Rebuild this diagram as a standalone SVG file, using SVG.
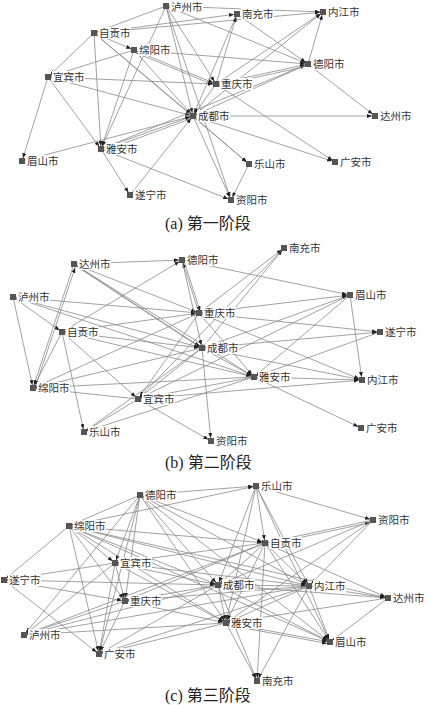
<svg xmlns="http://www.w3.org/2000/svg" width="428" height="705" viewBox="0 0 428 705">
<style>
.e line{stroke:#8a8a8a;stroke-width:0.8;fill:none;marker-end:url(#ar)}
.n{fill:#555}
.bg{fill:#fff}
.lb{font-family:"Noto Sans CJK SC",sans-serif;font-size:10.5px;fill:#333}
.cap{font-family:"Liberation Serif","Noto Sans CJK SC",serif;font-size:16px;fill:#222}
</style>
<defs>
<marker id="ar" viewBox="0 0 5 4" refX="8" refY="2" markerWidth="5" markerHeight="4" markerUnits="userSpaceOnUse" orient="auto"><path d="M0,0L5,2L0,4z" fill="#222"/></marker>
</defs>
<rect width="428" height="705" fill="#fff"/>
<g id="connectors" class="e">
<!-- panel a -->
<line x1="166" y1="6" x2="94" y2="33"/>
<line x1="166" y1="6" x2="323" y2="12"/>
<line x1="166" y1="6" x2="101" y2="149"/>
<line x1="166" y1="6" x2="193" y2="116"/>
<line x1="166" y1="6" x2="216" y2="84"/>
<line x1="166" y1="6" x2="308" y2="64"/>
<line x1="166" y1="6" x2="231" y2="200"/>
<line x1="94" y1="33" x2="237" y2="14"/>
<line x1="94" y1="33" x2="323" y2="12"/>
<line x1="94" y1="33" x2="48" y2="77"/>
<line x1="94" y1="33" x2="101" y2="149"/>
<line x1="94" y1="33" x2="193" y2="116"/>
<line x1="94" y1="33" x2="134" y2="50"/>
<line x1="94" y1="33" x2="249" y2="164"/>
<line x1="134" y1="50" x2="48" y2="77"/>
<line x1="134" y1="50" x2="101" y2="149"/>
<line x1="134" y1="50" x2="308" y2="64"/>
<line x1="134" y1="50" x2="216" y2="84"/>
<line x1="216" y1="86" x2="134" y2="52"/>
<line x1="134" y1="50" x2="193" y2="116"/>
<line x1="48" y1="77" x2="216" y2="84"/>
<line x1="48" y1="77" x2="193" y2="116"/>
<line x1="48" y1="77" x2="22" y2="161"/>
<line x1="48" y1="77" x2="101" y2="149"/>
<line x1="22" y1="161" x2="193" y2="116"/>
<line x1="101" y1="149" x2="193" y2="116"/>
<line x1="193" y1="118" x2="103" y2="151"/>
<line x1="101" y1="149" x2="231" y2="200"/>
<line x1="101" y1="149" x2="130" y2="195"/>
<line x1="101" y1="149" x2="308" y2="64"/>
<line x1="130" y1="195" x2="193" y2="116"/>
<line x1="193" y1="116" x2="375" y2="116"/>
<line x1="193" y1="116" x2="335" y2="162"/>
<line x1="193" y1="116" x2="249" y2="164"/>
<line x1="193" y1="116" x2="231" y2="200"/>
<line x1="308" y1="64" x2="193" y2="116"/>
<line x1="193" y1="116" x2="323" y2="12"/>
<line x1="237" y1="14" x2="193" y2="116"/>
<line x1="216" y1="84" x2="193" y2="116"/>
<line x1="216" y1="84" x2="308" y2="64"/>
<line x1="308" y1="66" x2="216" y2="86"/>
<line x1="216" y1="84" x2="323" y2="12"/>
<line x1="216" y1="84" x2="237" y2="14"/>
<line x1="216" y1="84" x2="335" y2="162"/>
<line x1="308" y1="64" x2="323" y2="12"/>
<line x1="308" y1="64" x2="375" y2="116"/>
<line x1="237" y1="14" x2="308" y2="64"/>
<line x1="249" y1="164" x2="231" y2="200"/>
<!-- panel b -->
<line x1="74" y1="264" x2="182" y2="260"/>
<line x1="74" y1="264" x2="199" y2="313"/>
<line x1="74" y1="264" x2="202" y2="348"/>
<line x1="76" y1="266" x2="204" y2="350"/>
<line x1="74" y1="264" x2="254" y2="377"/>
<line x1="74" y1="264" x2="33" y2="388"/>
<line x1="35" y1="388" x2="76" y2="265"/>
<line x1="13" y1="297" x2="33" y2="388"/>
<line x1="13" y1="297" x2="62" y2="332"/>
<line x1="13" y1="297" x2="199" y2="313"/>
<line x1="13" y1="297" x2="202" y2="348"/>
<line x1="13" y1="297" x2="254" y2="377"/>
<line x1="62" y1="332" x2="182" y2="260"/>
<line x1="62" y1="332" x2="199" y2="313"/>
<line x1="62" y1="332" x2="202" y2="348"/>
<line x1="62" y1="332" x2="138" y2="399"/>
<line x1="62" y1="332" x2="33" y2="388"/>
<line x1="62" y1="332" x2="84" y2="432"/>
<line x1="62" y1="332" x2="254" y2="377"/>
<line x1="199" y1="313" x2="284" y2="248"/>
<line x1="199" y1="313" x2="380" y2="332"/>
<line x1="199" y1="313" x2="362" y2="380"/>
<line x1="199" y1="313" x2="254" y2="377"/>
<line x1="199" y1="313" x2="182" y2="260"/>
<line x1="184" y1="261" x2="201" y2="314"/>
<line x1="199" y1="313" x2="33" y2="388"/>
<line x1="199" y1="313" x2="138" y2="399"/>
<line x1="199" y1="313" x2="350" y2="295"/>
<line x1="202" y1="348" x2="350" y2="295"/>
<line x1="202" y1="348" x2="380" y2="332"/>
<line x1="202" y1="348" x2="362" y2="380"/>
<line x1="202" y1="348" x2="254" y2="377"/>
<line x1="202" y1="348" x2="284" y2="248"/>
<line x1="182" y1="260" x2="202" y2="348"/>
<line x1="202" y1="348" x2="33" y2="388"/>
<line x1="202" y1="348" x2="138" y2="399"/>
<line x1="202" y1="348" x2="84" y2="432"/>
<line x1="202" y1="348" x2="211" y2="441"/>
<line x1="182" y1="260" x2="350" y2="295"/>
<line x1="284" y1="248" x2="138" y2="399"/>
<line x1="350" y1="295" x2="362" y2="380"/>
<line x1="350" y1="295" x2="254" y2="377"/>
<line x1="350" y1="295" x2="138" y2="399"/>
<line x1="380" y1="332" x2="254" y2="377"/>
<line x1="254" y1="377" x2="362" y2="380"/>
<line x1="254" y1="377" x2="361" y2="428"/>
<line x1="254" y1="377" x2="138" y2="399"/>
<line x1="254" y1="377" x2="33" y2="388"/>
<line x1="254" y1="377" x2="84" y2="432"/>
<line x1="138" y1="399" x2="33" y2="388"/>
<line x1="138" y1="399" x2="211" y2="441"/>
<line x1="138" y1="399" x2="84" y2="432"/>
<line x1="138" y1="399" x2="362" y2="380"/>
<!-- panel c -->
<line x1="140" y1="495" x2="256" y2="486"/>
<line x1="140" y1="495" x2="69" y2="526"/>
<line x1="140" y1="495" x2="265" y2="543"/>
<line x1="140" y1="495" x2="218" y2="585"/>
<line x1="140" y1="495" x2="115" y2="563"/>
<line x1="140" y1="495" x2="125" y2="601"/>
<line x1="140" y1="495" x2="309" y2="586"/>
<line x1="140" y1="495" x2="330" y2="642"/>
<line x1="140" y1="495" x2="99" y2="654"/>
<line x1="140" y1="495" x2="226" y2="623"/>
<line x1="140" y1="495" x2="24" y2="635"/>
<line x1="256" y1="486" x2="373" y2="520"/>
<line x1="256" y1="486" x2="265" y2="543"/>
<line x1="256" y1="486" x2="218" y2="585"/>
<line x1="256" y1="486" x2="309" y2="586"/>
<line x1="256" y1="486" x2="226" y2="623"/>
<line x1="256" y1="486" x2="330" y2="642"/>
<line x1="69" y1="526" x2="256" y2="486"/>
<line x1="373" y1="520" x2="265" y2="543"/>
<line x1="265" y1="545" x2="373" y2="522"/>
<line x1="373" y1="520" x2="218" y2="585"/>
<line x1="373" y1="520" x2="226" y2="623"/>
<line x1="373" y1="520" x2="309" y2="586"/>
<line x1="69" y1="526" x2="4" y2="580"/>
<line x1="69" y1="526" x2="115" y2="563"/>
<line x1="69" y1="526" x2="218" y2="585"/>
<line x1="69" y1="526" x2="125" y2="601"/>
<line x1="69" y1="526" x2="99" y2="654"/>
<line x1="69" y1="526" x2="226" y2="623"/>
<line x1="69" y1="526" x2="309" y2="586"/>
<line x1="69" y1="526" x2="265" y2="543"/>
<line x1="69" y1="526" x2="330" y2="642"/>
<line x1="69" y1="526" x2="388" y2="598"/>
<line x1="265" y1="543" x2="218" y2="585"/>
<line x1="265" y1="543" x2="309" y2="586"/>
<line x1="265" y1="543" x2="226" y2="623"/>
<line x1="265" y1="543" x2="115" y2="563"/>
<line x1="265" y1="543" x2="330" y2="642"/>
<line x1="265" y1="543" x2="388" y2="598"/>
<line x1="265" y1="543" x2="125" y2="601"/>
<line x1="265" y1="543" x2="24" y2="635"/>
<line x1="265" y1="543" x2="257" y2="681"/>
<line x1="115" y1="563" x2="4" y2="580"/>
<line x1="115" y1="563" x2="218" y2="585"/>
<line x1="115" y1="563" x2="125" y2="601"/>
<line x1="115" y1="563" x2="309" y2="586"/>
<line x1="115" y1="563" x2="226" y2="623"/>
<line x1="115" y1="563" x2="99" y2="654"/>
<line x1="115" y1="563" x2="24" y2="635"/>
<line x1="4" y1="580" x2="218" y2="585"/>
<line x1="4" y1="580" x2="125" y2="601"/>
<line x1="4" y1="580" x2="99" y2="654"/>
<line x1="218" y1="585" x2="309" y2="586"/>
<line x1="218" y1="585" x2="226" y2="623"/>
<line x1="218" y1="585" x2="125" y2="601"/>
<line x1="218" y1="585" x2="24" y2="635"/>
<line x1="218" y1="585" x2="99" y2="654"/>
<line x1="218" y1="585" x2="330" y2="642"/>
<line x1="218" y1="585" x2="257" y2="681"/>
<line x1="218" y1="585" x2="388" y2="598"/>
<line x1="309" y1="586" x2="388" y2="598"/>
<line x1="309" y1="586" x2="226" y2="623"/>
<line x1="309" y1="586" x2="330" y2="642"/>
<line x1="309" y1="586" x2="257" y2="681"/>
<line x1="309" y1="586" x2="125" y2="601"/>
<line x1="309" y1="586" x2="24" y2="635"/>
<line x1="309" y1="586" x2="99" y2="654"/>
<line x1="388" y1="598" x2="226" y2="623"/>
<line x1="388" y1="598" x2="330" y2="642"/>
<line x1="125" y1="601" x2="226" y2="623"/>
<line x1="125" y1="601" x2="24" y2="635"/>
<line x1="125" y1="601" x2="99" y2="654"/>
<line x1="226" y1="623" x2="330" y2="642"/>
<line x1="228" y1="625" x2="330" y2="644"/>
<line x1="226" y1="623" x2="24" y2="635"/>
<line x1="226" y1="623" x2="99" y2="654"/>
<line x1="226" y1="623" x2="257" y2="681"/>
</g>
<!-- panel a nodes -->
<g id="a-luzhou" transform="translate(166,6)"><rect class="bg" x="4" y="-6" width="33" height="12"/><rect class="n" x="-3" y="-3" width="6" height="6"/><text class="lb" x="5" y="4.5">泸州市</text></g>
<g id="a-nanchong" transform="translate(237,14)"><rect class="bg" x="4" y="-6" width="33" height="12"/><rect class="n" x="-3" y="-3" width="6" height="6"/><text class="lb" x="5" y="4">南充市</text></g>
<g id="a-neijiang" transform="translate(323,12)"><rect class="bg" x="4" y="-6" width="33" height="12"/><rect class="n" x="-3" y="-3" width="6" height="6"/><text class="lb" x="5" y="4">内江市</text></g>
<g id="a-zigong" transform="translate(94,33)"><rect class="bg" x="4" y="-6" width="33" height="12"/><rect class="n" x="-3" y="-3" width="6" height="6"/><text class="lb" x="5" y="4">自贡市</text></g>
<g id="a-mianyang" transform="translate(134,50)"><rect class="bg" x="4" y="-6" width="33" height="12"/><rect class="n" x="-3" y="-3" width="6" height="6"/><text class="lb" x="5" y="4">绵阳市</text></g>
<g id="a-deyang" transform="translate(308,64)"><rect class="bg" x="4" y="-6" width="33" height="12"/><rect class="n" x="-3" y="-3" width="6" height="6"/><text class="lb" x="5" y="4">德阳市</text></g>
<g id="a-yibin" transform="translate(48,77)"><rect class="bg" x="4" y="-6" width="33" height="12"/><rect class="n" x="-3" y="-3" width="6" height="6"/><text class="lb" x="5" y="4">宜宾市</text></g>
<g id="a-chongqing" transform="translate(216,84)"><rect class="bg" x="4" y="-6" width="33" height="12"/><rect class="n" x="-3" y="-3" width="6" height="6"/><text class="lb" x="5" y="4">重庆市</text></g>
<g id="a-chengdu" transform="translate(193,116)"><rect class="bg" x="4" y="-6" width="33" height="12"/><rect class="n" x="-3" y="-3" width="6" height="6"/><text class="lb" x="5" y="4">成都市</text></g>
<g id="a-dazhou" transform="translate(375,116)"><rect class="bg" x="4" y="-6" width="33" height="12"/><rect class="n" x="-3" y="-3" width="6" height="6"/><text class="lb" x="5" y="4">达州市</text></g>
<g id="a-yaan" transform="translate(101,149)"><rect class="bg" x="4" y="-6" width="33" height="12"/><rect class="n" x="-3" y="-3" width="6" height="6"/><text class="lb" x="5" y="4">雅安市</text></g>
<g id="a-meishan" transform="translate(22,161)"><rect class="bg" x="4" y="-6" width="33" height="12"/><rect class="n" x="-3" y="-3" width="6" height="6"/><text class="lb" x="5" y="4">眉山市</text></g>
<g id="a-leshan" transform="translate(249,164)"><rect class="bg" x="4" y="-6" width="33" height="12"/><rect class="n" x="-3" y="-3" width="6" height="6"/><text class="lb" x="5" y="4">乐山市</text></g>
<g id="a-guangan" transform="translate(335,162)"><rect class="bg" x="4" y="-6" width="33" height="12"/><rect class="n" x="-3" y="-3" width="6" height="6"/><text class="lb" x="5" y="4">广安市</text></g>
<g id="a-suining" transform="translate(130,195)"><rect class="bg" x="4" y="-6" width="33" height="12"/><rect class="n" x="-3" y="-3" width="6" height="6"/><text class="lb" x="5" y="4">遂宁市</text></g>
<g id="a-ziyang" transform="translate(231,200)"><rect class="bg" x="4" y="-6" width="33" height="12"/><rect class="n" x="-3" y="-3" width="6" height="6"/><text class="lb" x="5" y="4">资阳市</text></g>
<text class="cap" x="165" y="229">(a) 第一阶段</text>
<!-- panel b nodes -->
<g id="b-dazhou" transform="translate(74,264)"><rect class="bg" x="4" y="-6" width="33" height="12"/><rect class="n" x="-3" y="-3" width="6" height="6"/><text class="lb" x="5" y="4">达州市</text></g>
<g id="b-deyang" transform="translate(182,260)"><rect class="bg" x="4" y="-6" width="33" height="12"/><rect class="n" x="-3" y="-3" width="6" height="6"/><text class="lb" x="5" y="4">德阳市</text></g>
<g id="b-nanchong" transform="translate(284,248)"><rect class="bg" x="4" y="-6" width="33" height="12"/><rect class="n" x="-3" y="-3" width="6" height="6"/><text class="lb" x="5" y="4">南充市</text></g>
<g id="b-luzhou" transform="translate(13,297)"><rect class="bg" x="4" y="-6" width="33" height="12"/><rect class="n" x="-3" y="-3" width="6" height="6"/><text class="lb" x="5" y="4">泸州市</text></g>
<g id="b-meishan" transform="translate(350,295)"><rect class="bg" x="4" y="-6" width="33" height="12"/><rect class="n" x="-3" y="-3" width="6" height="6"/><text class="lb" x="5" y="4">眉山市</text></g>
<g id="b-chongqing" transform="translate(199,313)"><rect class="bg" x="4" y="-6" width="33" height="12"/><rect class="n" x="-3" y="-3" width="6" height="6"/><text class="lb" x="5" y="4">重庆市</text></g>
<g id="b-zigong" transform="translate(62,332)"><rect class="bg" x="4" y="-6" width="33" height="12"/><rect class="n" x="-3" y="-3" width="6" height="6"/><text class="lb" x="5" y="4">自贡市</text></g>
<g id="b-suining" transform="translate(380,332)"><rect class="bg" x="4" y="-6" width="33" height="12"/><rect class="n" x="-3" y="-3" width="6" height="6"/><text class="lb" x="5" y="4">遂宁市</text></g>
<g id="b-chengdu" transform="translate(202,348)"><rect class="bg" x="4" y="-6" width="33" height="12"/><rect class="n" x="-3" y="-3" width="6" height="6"/><text class="lb" x="5" y="4">成都市</text></g>
<g id="b-yaan" transform="translate(254,377)"><rect class="bg" x="4" y="-6" width="33" height="12"/><rect class="n" x="-3" y="-3" width="6" height="6"/><text class="lb" x="5" y="4">雅安市</text></g>
<g id="b-neijiang" transform="translate(362,380)"><rect class="bg" x="4" y="-6" width="33" height="12"/><rect class="n" x="-3" y="-3" width="6" height="6"/><text class="lb" x="5" y="4">内江市</text></g>
<g id="b-mianyang" transform="translate(33,388)"><rect class="bg" x="4" y="-6" width="33" height="12"/><rect class="n" x="-3" y="-3" width="6" height="6"/><text class="lb" x="5" y="4">绵阳市</text></g>
<g id="b-yibin" transform="translate(138,399)"><rect class="bg" x="4" y="-6" width="33" height="12"/><rect class="n" x="-3" y="-3" width="6" height="6"/><text class="lb" x="5" y="4">宜宾市</text></g>
<g id="b-leshan" transform="translate(84,432)"><rect class="bg" x="4" y="-6" width="33" height="12"/><rect class="n" x="-3" y="-3" width="6" height="6"/><text class="lb" x="5" y="4">乐山市</text></g>
<g id="b-ziyang" transform="translate(211,441)"><rect class="bg" x="4" y="-6" width="33" height="12"/><rect class="n" x="-3" y="-3" width="6" height="6"/><text class="lb" x="5" y="4">资阳市</text></g>
<g id="b-guangan" transform="translate(361,428)"><rect class="bg" x="4" y="-6" width="33" height="12"/><rect class="n" x="-3" y="-3" width="6" height="6"/><text class="lb" x="5" y="4">广安市</text></g>
<text class="cap" x="165" y="468">(b) 第二阶段</text>
<!-- panel c nodes -->
<g id="c-leshan" transform="translate(256,486)"><rect class="bg" x="4" y="-6" width="33" height="12"/><rect class="n" x="-3" y="-3" width="6" height="6"/><text class="lb" x="5" y="4">乐山市</text></g>
<g id="c-deyang" transform="translate(140,495)"><rect class="bg" x="4" y="-6" width="33" height="12"/><rect class="n" x="-3" y="-3" width="6" height="6"/><text class="lb" x="5" y="4">德阳市</text></g>
<g id="c-ziyang" transform="translate(373,520)"><rect class="bg" x="4" y="-6" width="33" height="12"/><rect class="n" x="-3" y="-3" width="6" height="6"/><text class="lb" x="5" y="4">资阳市</text></g>
<g id="c-mianyang" transform="translate(69,526)"><rect class="bg" x="4" y="-6" width="33" height="12"/><rect class="n" x="-3" y="-3" width="6" height="6"/><text class="lb" x="5" y="4">绵阳市</text></g>
<g id="c-zigong" transform="translate(265,543)"><rect class="bg" x="4" y="-6" width="33" height="12"/><rect class="n" x="-3" y="-3" width="6" height="6"/><text class="lb" x="5" y="4">自贡市</text></g>
<g id="c-yibin" transform="translate(115,563)"><rect class="bg" x="4" y="-6" width="33" height="12"/><rect class="n" x="-3" y="-3" width="6" height="6"/><text class="lb" x="5" y="4">宜宾市</text></g>
<g id="c-suining" transform="translate(4,580)"><rect class="bg" x="4" y="-6" width="33" height="12"/><rect class="n" x="-3" y="-3" width="6" height="6"/><text class="lb" x="5" y="4">遂宁市</text></g>
<g id="c-chengdu" transform="translate(218,585)"><rect class="bg" x="4" y="-6" width="33" height="12"/><rect class="n" x="-3" y="-3" width="6" height="6"/><text class="lb" x="5" y="4">成都市</text></g>
<g id="c-neijiang" transform="translate(309,586)"><rect class="bg" x="4" y="-6" width="33" height="12"/><rect class="n" x="-3" y="-3" width="6" height="6"/><text class="lb" x="5" y="4">内江市</text></g>
<g id="c-chongqing" transform="translate(125,601)"><rect class="bg" x="4" y="-6" width="33" height="12"/><rect class="n" x="-3" y="-3" width="6" height="6"/><text class="lb" x="5" y="4">重庆市</text></g>
<g id="c-dazhou" transform="translate(388,598)"><rect class="bg" x="4" y="-6" width="33" height="12"/><rect class="n" x="-3" y="-3" width="6" height="6"/><text class="lb" x="5" y="4">达州市</text></g>
<g id="c-yaan" transform="translate(226,623)"><rect class="bg" x="4" y="-6" width="33" height="12"/><rect class="n" x="-3" y="-3" width="6" height="6"/><text class="lb" x="5" y="4">雅安市</text></g>
<g id="c-luzhou" transform="translate(24,635)"><rect class="bg" x="4" y="-6" width="33" height="12"/><rect class="n" x="-3" y="-3" width="6" height="6"/><text class="lb" x="5" y="4">泸州市</text></g>
<g id="c-meishan" transform="translate(330,642)"><rect class="bg" x="4" y="-6" width="33" height="12"/><rect class="n" x="-3" y="-3" width="6" height="6"/><text class="lb" x="5" y="4">眉山市</text></g>
<g id="c-guangan" transform="translate(99,654)"><rect class="bg" x="4" y="-6" width="33" height="12"/><rect class="n" x="-3" y="-3" width="6" height="6"/><text class="lb" x="5" y="4">广安市</text></g>
<g id="c-nanchong" transform="translate(257,681)"><rect class="bg" x="4" y="-6" width="33" height="12"/><rect class="n" x="-3" y="-3" width="6" height="6"/><text class="lb" x="5" y="4">南充市</text></g>
<text class="cap" x="165" y="701">(c) 第三阶段</text>
</svg>
